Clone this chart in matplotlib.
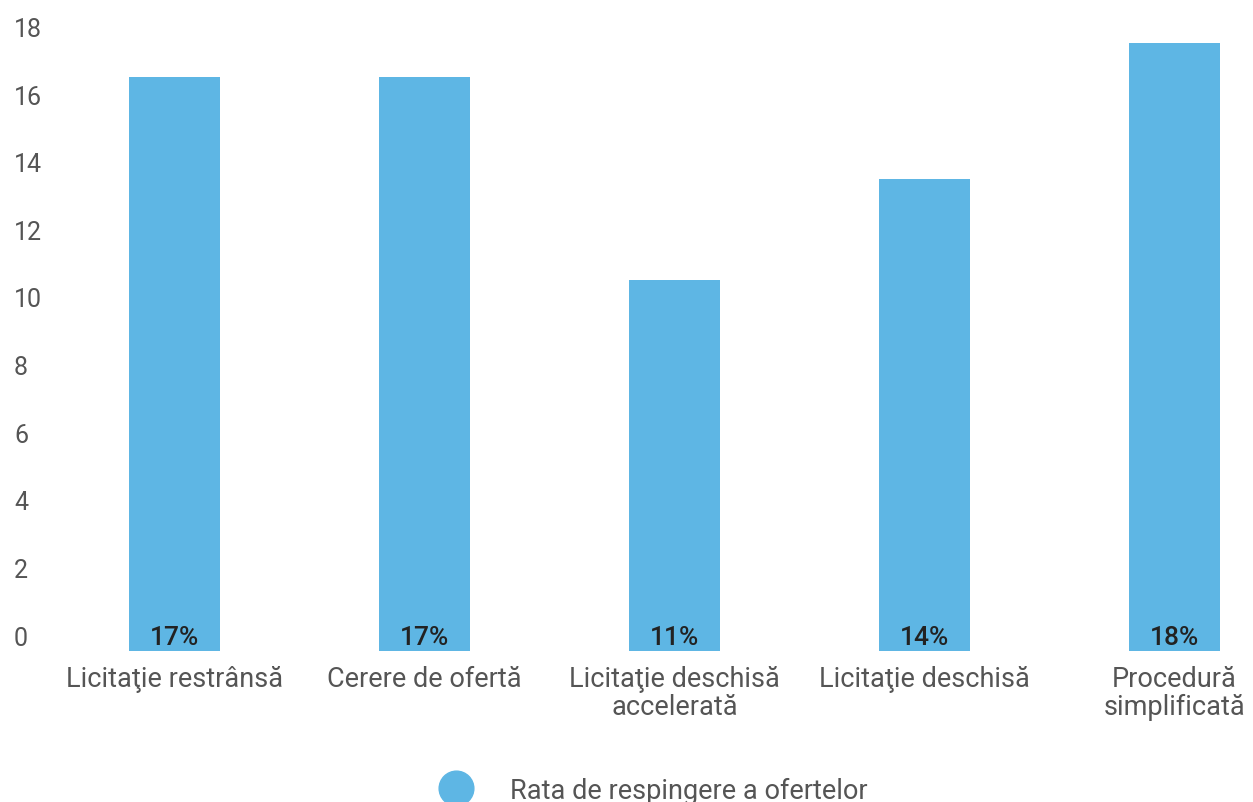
import numpy as np
import matplotlib.pyplot as plt
from matplotlib.lines import Line2D

# data
categories = ["Licitaţie restrânsă", "Cerere de ofertă", "Licitaţie deschisă\naccelerată",
              "Licitaţie deschisă", "Procedură\nsimplificată"]
values = [16.5, 16.5, 10.5, 13.5, 17.5]
value_labels = ["17%", "17%", "11%", "14%", "18%"]
series_name = "Rata de respingere a ofertelor"

bar_color = "#5EB6E4"
plt.rcParams['font.family'] = ['Roboto', 'DejaVu Sans']

fig = plt.figure(figsize=(12.53, 8.03), dpi=100)
ax = fig.add_axes([55 / 1253, 1 - 652 / 803, 1 - 55 / 1253, (652 - 20) / 803])

y_floor = -0.47
x = np.arange(len(categories))
ax.bar(x, np.array(values) - y_floor, bottom=y_floor, width=0.365, color=bar_color)

for xi, lab in zip(x, value_labels):
    ax.text(xi, -0.05, lab, ha='center', va='center', fontsize=19,
            color='#222222', fontweight='medium')

ax.set_xlim(-0.478, 4.314)
ax.set_ylim(y_floor, 18.22)
ax.set_yticks(range(0, 19, 2))
ax.set_xticks(x)
ax.set_xticklabels(categories, fontsize=19.5, color='#555555', linespacing=1.05)
ax.tick_params(axis='y', labelsize=18, colors='#555555', length=0, pad=29.5)
for t in ax.get_yticklabels():
    t.set_horizontalalignment('left')
ax.tick_params(axis='x', length=0, pad=10)
for s in ax.spines.values():
    s.set_visible(False)

handle = Line2D([], [], marker='o', linestyle='none', markersize=25,
                markerfacecolor=bar_color, markeredgecolor=bar_color)
fig.legend([handle], [series_name], loc='center', bbox_to_anchor=(648 / 1253, 1 - 791 / 803),
           frameon=False, fontsize=19.5, labelcolor='#555555', handletextpad=1.0)

fig.savefig('out.png', dpi=100)
